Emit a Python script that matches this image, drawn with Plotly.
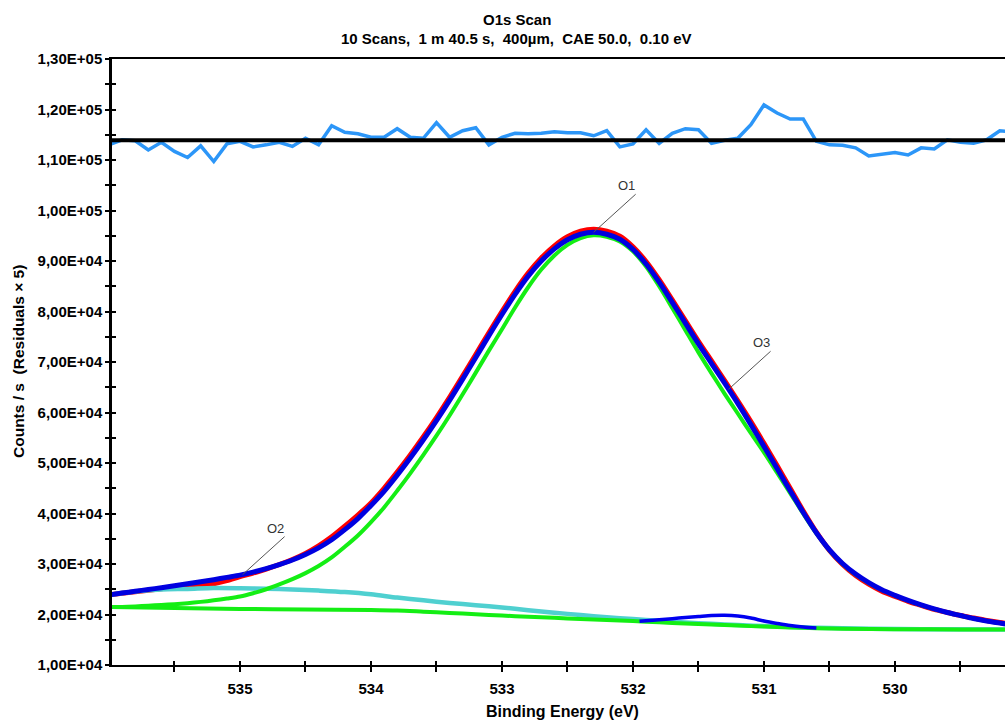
import plotly.graph_objects as go

# ---------------- data ----------------
# Energy channels, 0.10 eV step (536.0 ... 529.1 eV)
E = [round(536.0 - 0.1 * i, 1) for i in range(70)]

# Envelope (fit sum) – blue
ENV_Y = [23900, 24250, 24600, 24950, 25300, 25700, 26100, 26500, 26900, 27350,
         27800, 28400, 29100, 29900, 30800, 31900, 33200, 34800, 36800, 39000,
         41600, 44400, 47600, 51000, 54600, 58400, 62400, 66600, 70900, 75200,
         79400, 83400, 87000, 90000, 92400, 94200, 95300, 95700, 95300, 94300,
         92300, 89400, 85800, 81800, 77700, 73600, 69700, 65800, 61800, 57600,
         53300, 48900, 44500, 40200, 36200, 32800, 30100, 28000, 26300, 24900,
         23800, 22800, 21900, 21100, 20400, 19800, 19200, 18700, 18300, 17900]

# Raw data – red (mostly hidden below the envelope)
RAW_Y = [23900, 24200, 24500, 24800, 25100, 25400, 25600, 25800, 26100, 26700,
         27500, 28200, 29000, 29900, 30900, 32100, 33600, 35400, 37500, 39700,
         42100, 45000, 48200, 51600, 55200, 59000, 63000, 67200, 71500, 75800,
         80000, 84000, 87600, 90600, 93000, 94800, 95900, 96300, 95900, 94900,
         92800, 89900, 86300, 82300, 78200, 74100, 70200, 66300, 62300, 58200,
         53900, 49500, 45000, 40500, 36300, 32700, 29900, 27700, 26000, 24600,
         23600, 22600, 21800, 21000, 20400, 19800, 19300, 18800, 18400, 18100]

# O1 component + background – green
O1_Y = [21500, 21500, 21600, 21750, 21900, 22050, 22250, 22500, 22800, 23150,
        23550, 24200, 25000, 25950, 27000, 28200, 29600, 31300, 33400, 35650,
        38300, 41200, 44500, 47950, 51600, 55400, 59400, 63600, 67900, 72250,
        76500, 80800, 84800, 88300, 91100, 93200, 94550, 95100, 94800, 93850,
        91900, 88900, 85000, 80700, 76300, 71900, 67750, 63700, 59800, 55900,
        52100, 48100, 44050, 39950, 36050, 32700, 30000, 27900, 26250, 24850,
        23750, 22750, 21850, 21050, 20380, 19780, 19190, 18690, 18300, 17900]

# Residuals (x5, offset) – light blue
RES_Y = [113000, 114000, 113800, 112000, 113500, 111700, 110500, 112800, 109700, 113200,
         113700, 112600, 113000, 113500, 112700, 114300, 113000, 116800, 115500, 115200,
         114500, 114500, 116200, 114500, 114300, 117400, 114500, 115800, 116400, 113000,
         114500, 115300, 115200, 115300, 115600, 115400, 115400, 114800, 115800, 112600,
         113200, 116000, 113300, 115300, 116200, 116000, 113300, 113900, 114300, 117000,
         120900, 119300, 118100, 118100, 113700, 113000, 112900, 112400, 110800, 111200,
         111500, 111000, 112400, 112200, 114000, 113500, 113300, 114000, 115800, 115500]
RES_ZERO = 113900

# O2 component + background – cyan
O2_E = [536.0, 535.8, 535.6, 535.4, 535.2, 535.0, 534.8, 534.6, 534.4, 534.2,
        534.0, 533.8, 533.6, 533.4, 533.2, 533.0, 532.8, 532.6, 532.4, 532.2,
        532.0, 531.8, 531.6, 531.4, 531.2, 531.0, 530.6, 530.2, 529.8, 529.1]
O2_Y = [23900, 24550, 24950, 25060, 25230, 25200, 25110, 24970, 24730, 24440,
        24000, 23350, 22800, 22300, 21850, 21400, 20850, 20350, 19900, 19450,
        19100, 18750, 18400, 18150, 17920, 17700, 17380, 17200, 17100, 17000]

# O3 component + background – blue bump
O3_E = [531.95, 531.9, 531.8, 531.7, 531.6, 531.5, 531.4, 531.3, 531.2, 531.1,
        531.0, 530.9, 530.8, 530.7, 530.6]
O3_Y = [18650, 18740, 18950, 19180, 19400, 19600, 19800, 19850, 19700, 19300,
        18700, 18220, 17800, 17530, 17350]

# Background – green
BG_E = [536.0, 535.5, 535.0, 534.5, 534.0, 533.8, 533.6, 533.4, 533.2, 533.0,
        532.8, 532.6, 532.4, 532.2, 532.0, 531.8, 531.6, 531.4, 531.2, 531.0,
        530.8, 530.6, 530.4, 530.0, 529.5, 529.1]
BG_Y = [21500, 21300, 21100, 21000, 20900, 20800, 20550, 20300, 20050, 19800,
        19550, 19350, 19100, 18900, 18700, 18450, 18200, 18000, 17800, 17600,
        17450, 17300, 17200, 17100, 17050, 17000]

# Peak labels (anchored on the envelope)
LABELS = ["O1", "O2", "O3"]
LABEL_E = [532.3, 534.98, 531.27]
LABEL_Y = [95700, 27900, 64600]

# Axes
X_RANGE = [535.977, 529.16]
X_TICKS = [535, 534, 533, 532, 531, 530]
Y_RANGE = [10000, 130000]
Y_TICKS = [10000, 20000, 30000, 40000, 50000, 60000, 70000, 80000, 90000, 100000,
           110000, 120000, 130000]
Y_TICKTEXT = ["1,00E+04", "2,00E+04", "3,00E+04", "4,00E+04", "5,00E+04", "6,00E+04",
              "7,00E+04", "8,00E+04", "9,00E+04", "1,00E+05", "1,10E+05", "1,20E+05",
              "1,30E+05"]

TITLE_1 = "O1s Scan"
TITLE_2 = "10 Scans, \u00a01 m 40.5 s, \u00a0400µm, \u00a0CAE 50.0, \u00a00.10 eV"
X_TITLE = "Binding Energy (eV)"
Y_TITLE = "Counts / s \u00a0(Residuals × 5)"

FONT = "Arial, 'Liberation Sans', sans-serif"

# ---------------- figure ----------------
fig = go.Figure()


def line(x, y, color, width, shape="spline"):
    fig.add_trace(go.Scatter(x=x, y=y, mode="lines", showlegend=False, hoverinfo="skip",
                             line=dict(color=color, width=width, shape=shape, smoothing=0.8)))


line(E, RAW_Y, "#FF0000", 5)
line(O2_E, O2_Y, "#4FD0D0", 4.5)
line(BG_E, BG_Y, "#14EE14", 4)
line(E, O1_Y, "#14EE14", 4)
line(O3_E, O3_Y, "#0000F0", 3.5)
line(E, ENV_Y, "#0000E0", 5)
line(E, RES_Y, "#2C96F8", 3.5, shape="linear")

fig.add_hline(y=RES_ZERO, line=dict(color="black", width=4))

for t, xe, ye in zip(LABELS, LABEL_E, LABEL_Y):
    fig.add_annotation(x=xe, y=ye, text=t, showarrow=True, arrowhead=0, arrowwidth=1,
                       arrowcolor="#555555", ax=42, ay=-38, xanchor="right", yanchor="bottom",
                       standoff=0, borderpad=0,
                       font=dict(family=FONT, size=13, color="#333333"))

# titles as annotations (precise placement)
bold = dict(family=FONT, color="black", weight="bold")
fig.add_annotation(text=TITLE_1, xref="paper", yref="paper", x=0.4535, y=1,
                   xanchor="center", yanchor="middle", yshift=40, showarrow=False,
                   font=dict(size=15, **bold))
fig.add_annotation(text=TITLE_2, xref="paper", yref="paper", x=0.4535, y=1,
                   xanchor="center", yanchor="middle", yshift=21, showarrow=False,
                   font=dict(size=15, **bold))
fig.add_annotation(text=X_TITLE, xref="paper", yref="paper", x=0.504, y=0,
                   xanchor="center", yanchor="middle", yshift=-46, showarrow=False,
                   font=dict(size=16, **bold))
fig.add_annotation(text=Y_TITLE, xref="paper", yref="paper", x=0, y=0.5,
                   xanchor="center", yanchor="middle", xshift=-94, textangle=-90,
                   showarrow=False, font=dict(size=15.5, **bold))

# helper invisible trace for overlay axes (crossing ticks)
fig.add_trace(go.Scatter(x=[], y=[], xaxis="x2", yaxis="y2", showlegend=False))

tickfont = dict(family=FONT, size=15, color="black", weight="bold")

fig.update_layout(
    width=1005, height=720,
    margin=dict(l=112, r=0, t=59, b=55),
    paper_bgcolor="white", plot_bgcolor="white",
    xaxis=dict(range=X_RANGE, tickmode="array", tickvals=X_TICKS, automargin=False,
               ticks="outside", ticklen=5, tickwidth=2, tickcolor="black",
               ticklabelstandoff=4,
               minor=dict(dtick=0.5, tick0=530, ticks="outside", ticklen=5, tickwidth=2, tickcolor="black"),
               showline=True, linewidth=2, linecolor="black", mirror=True,
               showgrid=False, zeroline=False, tickfont=tickfont),
    yaxis=dict(range=Y_RANGE, tickmode="array", tickvals=Y_TICKS, ticktext=Y_TICKTEXT,
               automargin=False,
               ticks="outside", ticklen=4, tickwidth=2, tickcolor="black",
               minor=dict(dtick=5000, tick0=0, ticks="outside", ticklen=4, tickwidth=2, tickcolor="black"),
               showline=True, linewidth=2.5, linecolor="black",
               showgrid=False, zeroline=False, tickfont=tickfont),
    xaxis2=dict(range=X_RANGE, overlaying="x", anchor="y", side="bottom", automargin=False,
                tickmode="array", tickvals=X_TICKS, showticklabels=False,
                ticks="inside", ticklen=4, tickwidth=2, tickcolor="black",
                minor=dict(dtick=0.5, tick0=530, ticks="inside", ticklen=4, tickwidth=2, tickcolor="black"),
                showline=False, showgrid=False, zeroline=False),
    yaxis2=dict(range=Y_RANGE, overlaying="y", anchor="x", side="left", automargin=False,
                tickmode="array", tickvals=Y_TICKS, showticklabels=False,
                ticks="inside", ticklen=4, tickwidth=2, tickcolor="black",
                minor=dict(dtick=5000, tick0=0, ticks="inside", ticklen=4, tickwidth=2, tickcolor="black"),
                showline=False, showgrid=False, zeroline=False),
)

# remove the default page margin so the figure fills the 1005x720 window exactly
fig.write_html("out.html", config={"displayModeBar": False},
               post_script="document.body.style.margin='0';document.body.style.overflow='hidden';")
